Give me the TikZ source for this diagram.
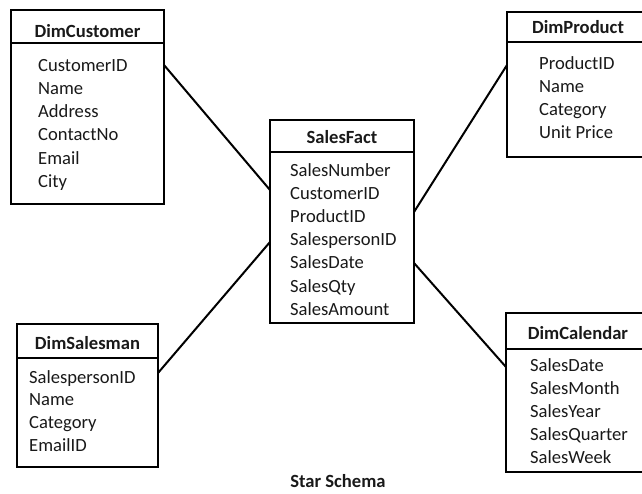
\documentclass[tikz,border=0pt]{standalone}
\usepackage{fontspec}
\setmainfont{Carlito}
\begin{document}
\begin{tikzpicture}[x=1pt,y=-1pt,
  boxline/.style={draw=black,line width=2.2pt},
  conn/.style={draw=black,line width=2pt},
  rowtext/.style={anchor=base west,inner sep=0pt,font=\fontsize{18.6}{22}\selectfont,text=black!90},
  headtext/.style={anchor=base,inner sep=0pt,font=\fontsize{18.6}{22}\selectfont\bfseries,text=black!90}]
\useasboundingbox (0,0) rectangle (642,493);
% ---- DimCustomer
\path[boxline] (11,10) rectangle (164,204);
\draw[boxline] (11,43) -- (164,43);
\node[headtext] (hcust) at (87.5,37) {DimCustomer};
\foreach \t [count=\i] in {CustomerID,Name,Address,ContactNo,Email,City}
  \node[rowtext] (cust\i) at (38,{71+(\i-1)*23.3}) {\t};
% ---- SalesFact
\path[boxline] (270,120) rectangle (414,323);
\draw[boxline] (270,152) -- (414,152);
\node[headtext] (hfact) at (342,143) {SalesFact};
\foreach \t [count=\i] in {SalesNumber,CustomerID,ProductID,SalespersonID,SalesDate,SalesQty,SalesAmount}
  \node[rowtext] (fact\i) at (290,{176+(\i-1)*23.2}) {\t};
% ---- DimProduct
\path[boxline] (507,12) rectangle (650,157);
\draw[boxline] (507,42) -- (650,42);
\node[headtext] (hprod) at (578,33) {DimProduct};
\foreach \t [count=\i] in {ProductID,Name,Category,Unit Price}
  \node[rowtext] (prod\i) at (539,{69+(\i-1)*23.1}) {\t};
% ---- DimSalesman
\path[boxline] (17,324) rectangle (158,467);
\draw[boxline] (17,358) -- (158,358);
\node[headtext] (hsal) at (87.5,349) {DimSalesman};
\foreach \t [count=\i] in {SalespersonID,Name,Category,EmailID}
  \node[rowtext] (sal\i) at (29,{383+(\i-1)*22.8}) {\t};
% ---- DimCalendar
\path[boxline] (506,313) rectangle (650,472);
\draw[boxline] (506,349) -- (650,349);
\node[headtext] (hcal) at (578,339) {DimCalendar};
\foreach \t [count=\i] in {SalesDate,SalesMonth,SalesYear,SalesQuarter,SalesWeek}
  \node[rowtext] (cal\i) at (530,{371+(\i-1)*23}) {\t};
% ---- anchor points on box borders
\coordinate (custE) at (164,65);
\coordinate (factW1) at (270,190);
\coordinate (salE) at (158,373);
\coordinate (factW2) at (270,242);
\coordinate (factE1) at (414,212);
\coordinate (prodW) at (507,65);
\coordinate (factE2) at (414,263);
\coordinate (calW) at (506,367);
\draw[conn] (custE) -- (factW1);
\draw[conn] (salE) -- (factW2);
\draw[conn] (factE1) -- (prodW);
\draw[conn] (factE2) -- (calW);
% ---- caption
\node[headtext] (caption) at (338,487) {Star Schema};
\end{tikzpicture}
\end{document}
